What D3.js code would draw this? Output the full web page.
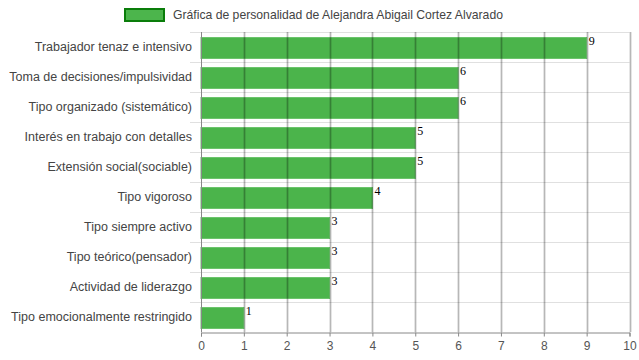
<!DOCTYPE html>
<meta charset="utf-8">
<head>
<style>
  body {margin: 0; background: #fff;}
  text {font-family: "Liberation Sans", Arial, sans-serif;}
  text.val {font-family: "Liberation Serif", "Times New Roman", serif;}
</style>
<script src="https://d3js.org/d3.v7.min.js"></script>
</head>
<body>
<script>
var categories = ["Trabajador tenaz e intensivo", "Toma de decisiones/impulsividad", "Tipo organizado (sistemático)",
  "Interés en trabajo con detalles", "Extensión social(sociable)", "Tipo vigoroso", "Tipo siempre activo",
  "Tipo teórico(pensador)", "Actividad de liderazgo", "Tipo emocionalmente restringido"];
var values = [9, 6, 6, 5, 5, 4, 3, 3, 3, 1];
var ticks = [0, 1, 2, 3, 4, 5, 6, 7, 8, 9, 10];
var seriesName = "Gráfica de personalidad de Alejandra Abigail Cortez Alvarado";

var width = 639, height = 360;
var pLeft = 201, pRight = 629.5, pTop = 32, pBottom = 332;

var svg = d3.select("body").append("svg")
  .attr("width", width).attr("height", height);

var x = d3.scaleLinear().domain([0, 10]).range([pLeft, pRight]);
var y = d3.scaleBand().domain(categories).range([pTop, pBottom]).paddingInner(0.3).paddingOuter(0.15);

// horizontal grid lines at band edges
var edges = categories.map(function(d) { return y(d) - y.step() * y.paddingInner() / 2; });
svg.append("g").selectAll("line").data(edges).enter().append("line")
  .attr("x1", 190).attr("x2", pRight)
  .attr("y1", function(d) { return Math.round(d) + 0.5; })
  .attr("y2", function(d) { return Math.round(d) + 0.5; })
  .attr("stroke", "#e0e0e0");

// bars
svg.append("g").selectAll("rect").data(values).enter().append("rect")
  .attr("x", x(0))
  .attr("y", function(d, i) { return Math.round(y(categories[i])) + 0.5; })
  .attr("width", function(d) { return x(d) - x(0); })
  .attr("height", Math.round(y.bandwidth()))
  .attr("fill", "#2ca72c")
  .attr("fill-opacity", 0.85)
  .attr("stroke", "#6cc46c")
  .attr("stroke-width", 1);

// vertical grid lines
var vg = svg.append("g");
vg.selectAll("line.wide").data(ticks.slice(1)).enter().append("line")
  .attr("class", "wide")
  .attr("x1", function(d) { return Math.round(x(d)) + 0.5; })
  .attr("x2", function(d) { return Math.round(x(d)) + 0.5; })
  .attr("y1", pTop).attr("y2", pBottom)
  .attr("stroke", "#000").attr("stroke-opacity", 0.1).attr("stroke-width", 3);
vg.selectAll("line.thin").data(ticks.slice(1)).enter().append("line")
  .attr("class", "thin")
  .attr("x1", function(d) { return Math.round(x(d)) + 0.5; })
  .attr("x2", function(d) { return Math.round(x(d)) + 0.5; })
  .attr("y1", pTop).attr("y2", pBottom)
  .attr("stroke", "#000").attr("stroke-opacity", 0.2);

// left axis line
svg.append("line")
  .attr("x1", pLeft + 0.5).attr("x2", pLeft + 0.5)
  .attr("y1", pTop).attr("y2", pBottom)
  .attr("stroke", "#888");

// bottom axis
var xAxis = svg.append("g")
  .attr("transform", "translate(0," + (pBottom + 0.5) + ")")
  .call(d3.axisBottom(x).tickValues(ticks).tickSize(4).tickPadding(5).tickFormat(d3.format("d")));
xAxis.select(".domain").attr("stroke", "#888");
xAxis.selectAll(".tick line").attr("stroke", "#888");
xAxis.selectAll("text").attr("fill", "#555").style("font-size", "12px");

// category labels
svg.append("g").selectAll("text").data(categories).enter().append("text")
  .attr("x", 192)
  .attr("y", function(d) { return y(d) + y.bandwidth() / 2; })
  .attr("dy", "0.35em")
  .attr("text-anchor", "end")
  .style("font-size", "12.5px")
  .attr("fill", "#444")
  .text(function(d) { return d; });

// value labels
svg.append("g").selectAll("text").data(values).enter().append("text")
  .attr("class", "val")
  .attr("x", function(d) { return x(d) + 2; })
  .attr("y", function(d, i) { return y(categories[i]) + 8; })
  .style("font-size", "12px")
  .attr("fill", "#000")
  .text(function(d) { return d; });

// legend
var lg = svg.append("g");
lg.append("rect")
  .attr("x", 125).attr("y", 9).attr("width", 39).attr("height", 12)
  .attr("fill", "#4cb54c").attr("stroke", "#0a7d0a").attr("stroke-width", 2);
lg.append("text")
  .attr("x", 173).attr("y", 15).attr("dy", "0.35em")
  .style("font-size", "12.2px").attr("fill", "#444")
  .text(seriesName);
</script>
</body>
